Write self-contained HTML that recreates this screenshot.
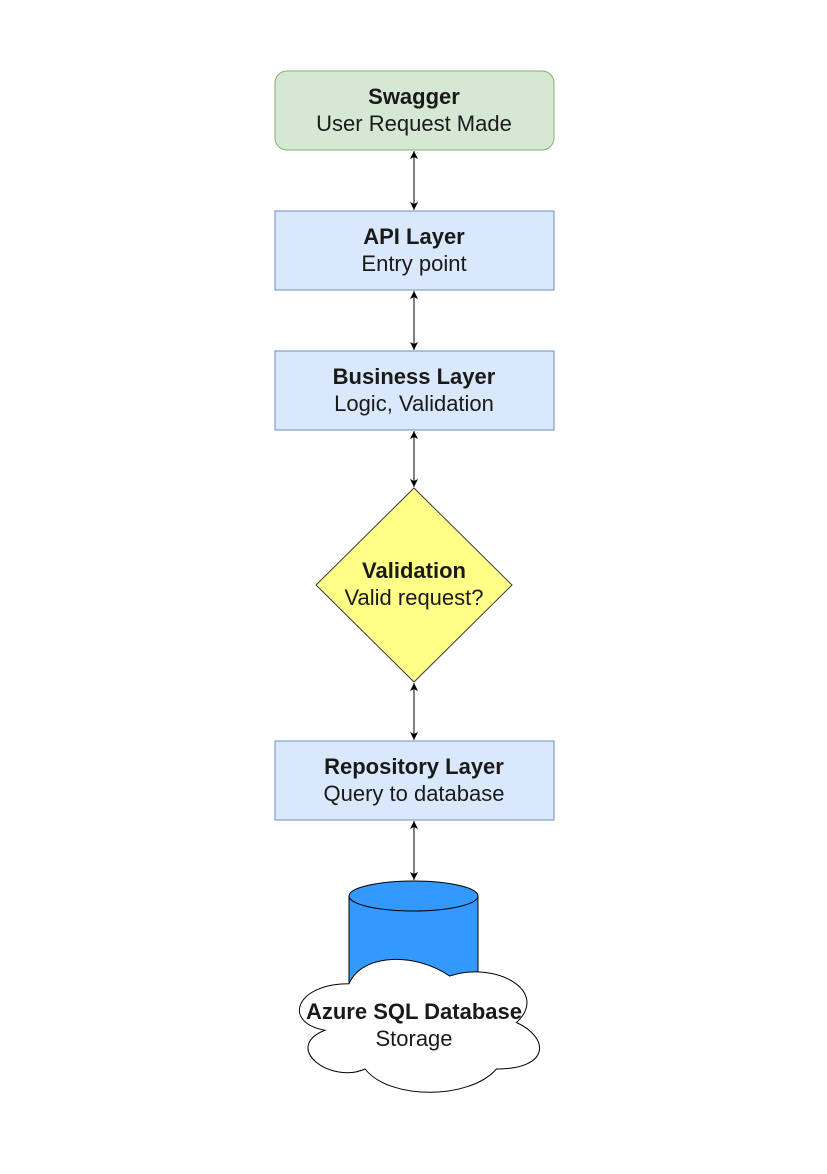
<!DOCTYPE html>
<html><head><style>html,body{margin:0;padding:0;background:#fff}</style></head><body>
<svg width="827" height="1169" xmlns="http://www.w3.org/2000/svg" font-family="Liberation Sans, Arial, sans-serif" font-size="22">
<defs><marker id="a" markerWidth="8" markerHeight="10" refX="8" refY="4.5" orient="auto-start-reverse" markerUnits="userSpaceOnUse"><path d="M0,0.5 L8,4.5 L0,8.5 L2,4.5Z" fill="#000"/></marker></defs>
<g stroke="#000" stroke-width="1" marker-start="url(#a)" marker-end="url(#a)">
<line x1="414" y1="151" x2="414" y2="210"/>
<line x1="414" y1="291" x2="414" y2="350"/>
<line x1="414" y1="431" x2="414" y2="487"/>
<line x1="414" y1="683" x2="414" y2="740"/>
<line x1="414" y1="821" x2="414" y2="880"/>
</g>
<rect x="275" y="71" width="279" height="79" rx="12" fill="#d5e8d4" stroke="#82b366"/>
<rect x="275" y="211" width="279" height="79" fill="#dae8fc" stroke="#6c8ebf"/>
<rect x="275" y="351" width="279" height="79" fill="#dae8fc" stroke="#6c8ebf"/>
<polygon points="414,488 512,585 414,682 316,585" fill="#ffff88" stroke="#36393d"/>
<rect x="275" y="741" width="279" height="79" fill="#dae8fc" stroke="#6c8ebf"/>
<path d="M349,896 L349,1000 L478,1000 L478,896" fill="#3399ff" stroke="#000"/>
<ellipse cx="413.5" cy="896" rx="64.5" ry="15" fill="#3399ff" stroke="#000"/>
<path d="M349,983.75 C295.4,983.75 282,1022.5 324.9,1030.25 C282,1047.3 330.2,1084.5 365.1,1069 C389.2,1100 469.6,1100 496.4,1069 C550,1069 550,1038 516.5,1022.5 C550,991.5 496.4,960.5 449.5,976 C416,952.75 362.4,952.75 349,983.75Z" fill="#fff" stroke="#000" stroke-width="1"/>
<g text-anchor="middle" fill="#1a1a1a">
<text x="414" y="104" font-weight="bold">Swagger</text><text x="414" y="131">User Request Made</text>
<text x="414" y="244" font-weight="bold">API Layer</text><text x="414" y="271">Entry point</text>
<text x="414" y="384" font-weight="bold">Business Layer</text><text x="414" y="411">Logic, Validation</text>
<text x="414" y="578" font-weight="bold">Validation</text><text x="414" y="605">Valid request?</text>
<text x="414" y="774" font-weight="bold">Repository Layer</text><text x="414" y="801">Query to database</text>
<text x="414" y="1019" font-weight="bold">Azure SQL Database</text><text x="414" y="1046">Storage</text>
</g>
</svg>
</body></html>
